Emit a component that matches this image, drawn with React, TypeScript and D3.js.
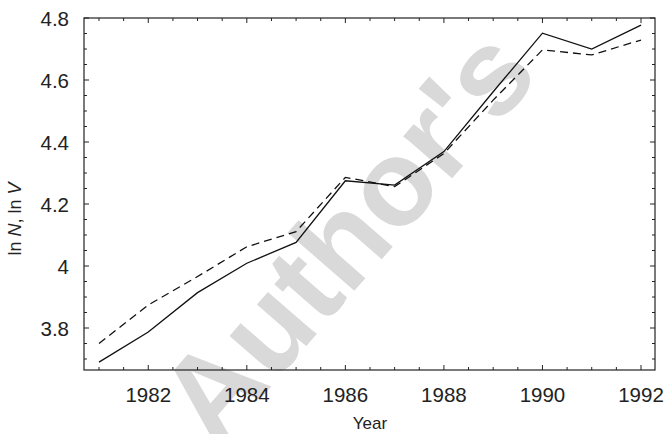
import React from "react";
import * as d3 from "d3";

// ln N (solid) and ln V (dashed), 1981-1992
const years = [1981, 1982, 1983, 1984, 1985, 1986, 1987, 1988, 1989, 1990, 1991, 1992];
const lnN = [3.69, 3.787, 3.914, 4.009, 4.076, 4.275, 4.261, 4.369, 4.562, 4.751, 4.7, 4.777];
const lnV = [3.75, 3.874, 3.966, 4.062, 4.111, 4.286, 4.256, 4.363, 4.535, 4.697, 4.681, 4.729];
const xTicks = [1982, 1984, 1986, 1988, 1990, 1992];
const yTicks = [3.8, 4, 4.2, 4.4, 4.6, 4.8];

const W = 668;
const H = 434;
const frame = { left: 84, right: 655, top: 18, bottom: 370 };
const FONT = "'Liberation Sans', Arial, Helvetica, sans-serif";

const App: React.FC = () => {
  const x = d3.scaleLinear().domain([1981, 1992]).range([99, 641]);
  const y = d3.scaleLinear().domain([3.8, 4.8]).range([328, 18]);

  const xMin = x.invert(frame.left);
  const xMax = x.invert(frame.right);
  const yMin = y.invert(frame.bottom);

  // minor ticks: half years, 0.05 on ln scale
  const xMinor = d3.range(Math.ceil(xMin * 2) / 2, xMax, 0.5);
  const yMinor = d3.range(Math.ceil(yMin * 20) / 20, 4.8001, 0.05);

  const line = d3
    .line<number>()
    .x((_, i) => x(years[i]))
    .y((d) => y(d));

  const isMajorX = (v: number) => Number.isInteger(v) && v % 2 === 0;
  const isMajorY = (v: number) => Math.abs(v * 5 - Math.round(v * 5)) < 1e-6;

  return (
    <svg
      width={W}
      height={H}
      style={{ position: "absolute", left: 0, top: 0, background: "#fff" }}
      fontFamily={FONT}
    >
      {/* watermark */}
      <text
        x={0}
        y={0}
        transform="translate(354,242) rotate(-49)"
        textAnchor="middle"
        dominantBaseline="middle"
        fontSize={122}
        fontWeight="bold"
        fill="#d9d9d9"
      >
        Author's
      </text>

      {/* frame */}
      <rect
        x={frame.left}
        y={frame.top}
        width={frame.right - frame.left}
        height={frame.bottom - frame.top}
        fill="none"
        stroke="#222"
        strokeWidth={1.2}
      />

      {/* x ticks bottom & top */}
      {xMinor.map((v) => {
        const len = isMajorX(v) ? 5 : 3;
        const px = x(v);
        return (
          <g key={`xt${v}`} stroke="#222" strokeWidth={1}>
            <line x1={px} x2={px} y1={frame.bottom} y2={frame.bottom - len} />
            <line x1={px} x2={px} y1={frame.top} y2={frame.top + len} />
          </g>
        );
      })}

      {/* y ticks left & right */}
      {yMinor.map((v) => {
        const len = isMajorY(v) ? 5 : 3;
        const py = y(v);
        return (
          <g key={`yt${v}`} stroke="#222" strokeWidth={1}>
            <line x1={frame.left} x2={frame.left + len} y1={py} y2={py} />
            <line x1={frame.right} x2={frame.right - len} y1={py} y2={py} />
          </g>
        );
      })}

      {/* x tick labels */}
      {xTicks.map((v) => (
        <text key={`xl${v}`} x={x(v)} y={402} textAnchor="middle" fontSize={20.5} fill="#222">
          {v}
        </text>
      ))}

      {/* y tick labels */}
      {yTicks.map((v) => (
        <text
          key={`yl${v}`}
          x={69}
          y={y(v) + 7.5}
          textAnchor="end"
          fontSize={20.5}
          fill="#222"
        >
          {v === 4 ? "4" : v.toFixed(1)}
        </text>
      ))}

      {/* series */}
      <path d={line(lnV) || ""} fill="none" stroke="#111" strokeWidth={1.3} strokeDasharray="8,5" />
      <path d={line(lnN) || ""} fill="none" stroke="#111" strokeWidth={1.3} />

      {/* axis titles */}
      <text x={370} y={429} textAnchor="middle" fontSize={17} fill="#222">
        Year
      </text>
      <text
        transform="translate(21,219) rotate(-90)"
        textAnchor="middle"
        fontSize={18}
        fill="#222"
      >
        ln <tspan fontStyle="italic">N</tspan>, ln <tspan fontStyle="italic">V</tspan>
      </text>
    </svg>
  );
};

export default App;
